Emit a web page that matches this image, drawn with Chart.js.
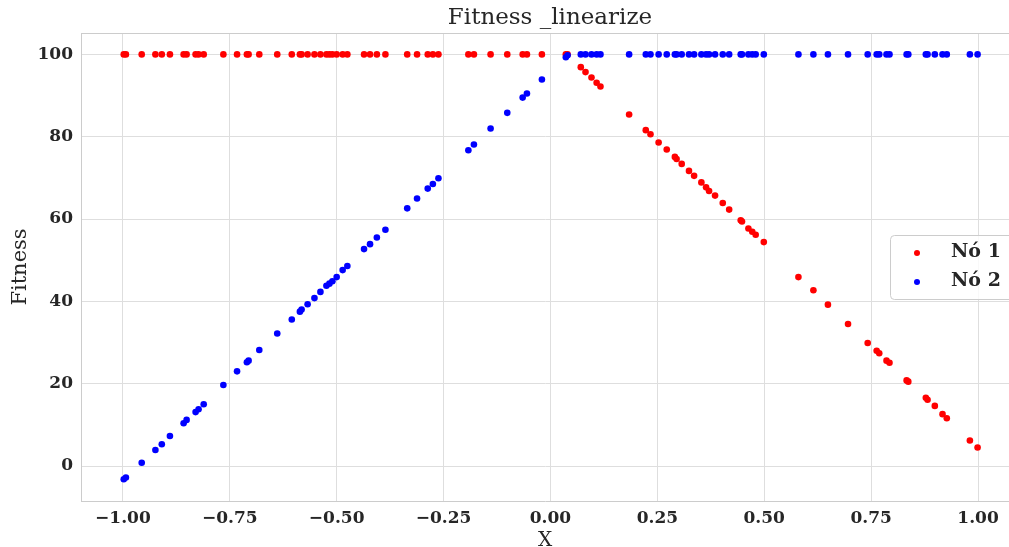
<!DOCTYPE html>
<html>
<head>
<meta charset="utf-8">
<title>Fitness _linearize</title>
<script src="https://cdn.jsdelivr.net/npm/chart.js@4.4.0/dist/chart.umd.min.js"></script>
<style>
  html, body { margin: 0; padding: 0; background: #ffffff; }
  #wrap { width: 1009px; height: 547px; }
</style>
</head>
<body>
<div id="wrap"><canvas id="fitnessChart" width="1009" height="547"></canvas></div>
<script>
// --- data ---
let xValues = [
  -0.998, -0.993, -0.956, -0.924, -0.909, -0.890, -0.858, -0.851, -0.830, -0.823,
  -0.811, -0.765, -0.733, -0.710, -0.706, -0.681, -0.639, -0.605, -0.586, -0.582,
  -0.568, -0.552, -0.538, -0.524, -0.517, -0.510, -0.500, -0.486, -0.475, -0.436,
  -0.422, -0.406, -0.386, -0.335, -0.312, -0.287, -0.275, -0.262, -0.192, -0.179,
  -0.140, -0.101, -0.065, -0.055, -0.020,
  0.036, 0.040,
  0.071, 0.082, 0.096, 0.108, 0.117, 0.184, 0.223, 0.234, 0.253, 0.272,
  0.291, 0.295, 0.307, 0.324, 0.336, 0.353, 0.364, 0.371, 0.385, 0.403,
  0.418, 0.445, 0.448, 0.463, 0.472, 0.480, 0.499, 0.580, 0.615, 0.649,
  0.696, 0.742, 0.763, 0.769, 0.786, 0.793, 0.833, 0.837, 0.878, 0.882,
  0.899, 0.917, 0.927, 0.981, 0.999
];
let no1Values = [
  100, 100, 100, 100, 100, 100, 100, 100, 100, 100,
  100, 100, 100, 100, 100, 100, 100, 100, 100, 100,
  100, 100, 100, 100, 100, 100, 100, 100, 100, 100,
  100, 100, 100, 100, 100, 100, 100, 100, 100, 100,
  100, 100, 100, 100, 100,
  100, 100,
  96.9, 95.7, 94.4, 93.1, 92.2, 85.4, 81.6, 80.6, 78.6, 76.9,
  75.1, 74.6, 73.4, 71.7, 70.5, 68.9, 67.7, 66.8, 65.7, 63.9,
  62.3, 59.7, 59.4, 57.7, 56.9, 56.2, 54.4, 45.9, 42.7, 39.2,
  34.5, 29.9, 28.0, 27.4, 25.6, 25.1, 20.8, 20.5, 16.6, 16.1,
  14.6, 12.6, 11.6, 6.2, 4.5
];
let no2Values = [
  -3.2, -2.8, 0.8, 3.9, 5.3, 7.3, 10.4, 11.2, 13.1, 13.8,
  15.0, 19.7, 23.0, 25.2, 25.6, 28.2, 32.2, 35.6, 37.5, 38.0,
  39.3, 40.8, 42.3, 43.8, 44.3, 44.9, 45.9, 47.6, 48.6, 52.7,
  53.9, 55.5, 57.4, 62.6, 65.0, 67.4, 68.5, 69.9, 76.7, 78.1,
  82.0, 85.8, 89.5, 90.5, 93.9,
  99.3, 99.8,
  100, 100, 100, 100, 100, 100, 100, 100, 100, 100,
  100, 100, 100, 100, 100, 100, 100, 100, 100, 100,
  100, 100, 100, 100, 100, 100, 100, 100, 100, 100,
  100, 100, 100, 100, 100, 100, 100, 100, 100, 100,
  100, 100, 100, 100, 100
];
let seriesNames = ['Nó 1', 'Nó 2'];
let xTicks = [-1.0, -0.75, -0.5, -0.25, 0, 0.25, 0.5, 0.75, 1.0];
let yTicks = [0, 20, 40, 60, 80, 100];
let chartTitle = 'Fitness _linearize';

let serif = "'DejaVu Serif', serif";
let textColor = '#262626';
let gridColor = '#dedede';
let spineColor = '#cccccc';

function toPoints(ys) {
  return xValues.map((x, i) => ({ x: x, y: ys[i] }));
}

// matplotlib uses a real minus sign
function fmt(v, digits) {
  let s = Math.abs(v).toFixed(digits);
  return v < 0 ? '\u2212' + s : s;
}

// --- title, top spine and legend box drawn on top ---
let overlay = {
  id: 'overlay',
  afterDraw(chart) {
    let ctx = chart.ctx;
    let area = chart.chartArea;
    ctx.save();
    // top spine
    ctx.strokeStyle = spineColor;
    ctx.lineWidth = 1;
    ctx.beginPath();
    ctx.moveTo(area.left, area.top + 0.5);
    ctx.lineTo(area.right, area.top + 0.5);
    ctx.stroke();

    // title, centred on the full axes width
    ctx.fillStyle = textColor;
    ctx.font = '23px ' + serif;
    ctx.textAlign = 'center';
    ctx.textBaseline = 'middle';
    ctx.fillText(chartTitle, 550, 18);

    // legend
    let bx = 890, by = 235, bw = 124, bh = 64;
    ctx.beginPath();
    ctx.roundRect(bx + 0.5, by + 0.5, bw, bh, 4);
    ctx.fillStyle = 'rgba(255,255,255,0.8)';
    ctx.fill();
    ctx.strokeStyle = spineColor;
    ctx.stroke();
    ctx.font = 'bold 19px ' + serif;
    ctx.textAlign = 'left';
    chart.data.datasets.forEach((ds, i) => {
      let cy = 253 + i * 29;
      ctx.beginPath();
      ctx.arc(917, cy, 3, 0, Math.PI * 2);
      ctx.fillStyle = ds.backgroundColor;
      ctx.fill();
      ctx.fillStyle = textColor;
      ctx.fillText(ds.label, 951, cy - 1);
    });
    ctx.restore();
  }
};

let ctx = document.getElementById('fitnessChart').getContext('2d');
let fitnessChart = new Chart(ctx, {
  type: 'scatter',
  data: {
    datasets: [
      {
        label: seriesNames[0],
        data: toPoints(no1Values),
        backgroundColor: '#ff0000',
        borderWidth: 0,
        pointRadius: 3.3,
        order: 1
      },
      {
        label: seriesNames[1],
        data: toPoints(no2Values),
        backgroundColor: '#0000ff',
        borderWidth: 0,
        pointRadius: 3.3,
        order: 0
      }
    ]
  },
  options: {
    responsive: false,
    animation: false,
    devicePixelRatio: 1,
    layout: { autoPadding: false, padding: { top: 33, left: 0, right: 0, bottom: 0 } },
    plugins: {
      legend: { display: false },
      title: { display: false },
      tooltip: { enabled: false }
    },
    scales: {
      x: {
        type: 'linear',
        min: -1.098,
        max: 1.0725,
        afterBuildTicks: scale => { scale.ticks = xTicks.map(v => ({ value: v })); },
        afterFit: scale => {
          scale.height = 46;
          scale.paddingLeft = 0;
          scale.paddingRight = 0;
        },
        grid: { color: gridColor, drawTicks: false },
        border: { display: true, color: spineColor },
        ticks: {
          padding: 7,
          color: textColor,
          font: { family: serif, size: 17, weight: 'bold' },
          callback: v => fmt(v, 2)
        },
        title: {
          display: true,
          text: 'X',
          color: textColor,
          font: { family: serif, size: 20, lineHeight: 1 },
          padding: { top: 0, bottom: -4 }
        }
      },
      y: {
        type: 'linear',
        min: -8.5,
        max: 105.2,
        afterBuildTicks: scale => { scale.ticks = yTicks.map(v => ({ value: v })); },
        afterFit: scale => { scale.width = 81; },
        grid: { color: gridColor, drawTicks: false },
        border: { display: true, color: spineColor },
        ticks: {
          padding: 8,
          color: textColor,
          font: { family: serif, size: 17, weight: 'bold' },
          callback: v => fmt(v, 0)
        },
        title: {
          display: true,
          text: 'Fitness',
          color: textColor,
          font: { family: serif, size: 21, lineHeight: 1 },
          padding: { top: 10, bottom: 0 }
        }
      }
    }
  },
  plugins: [overlay]
});
</script>
</body>
</html>
